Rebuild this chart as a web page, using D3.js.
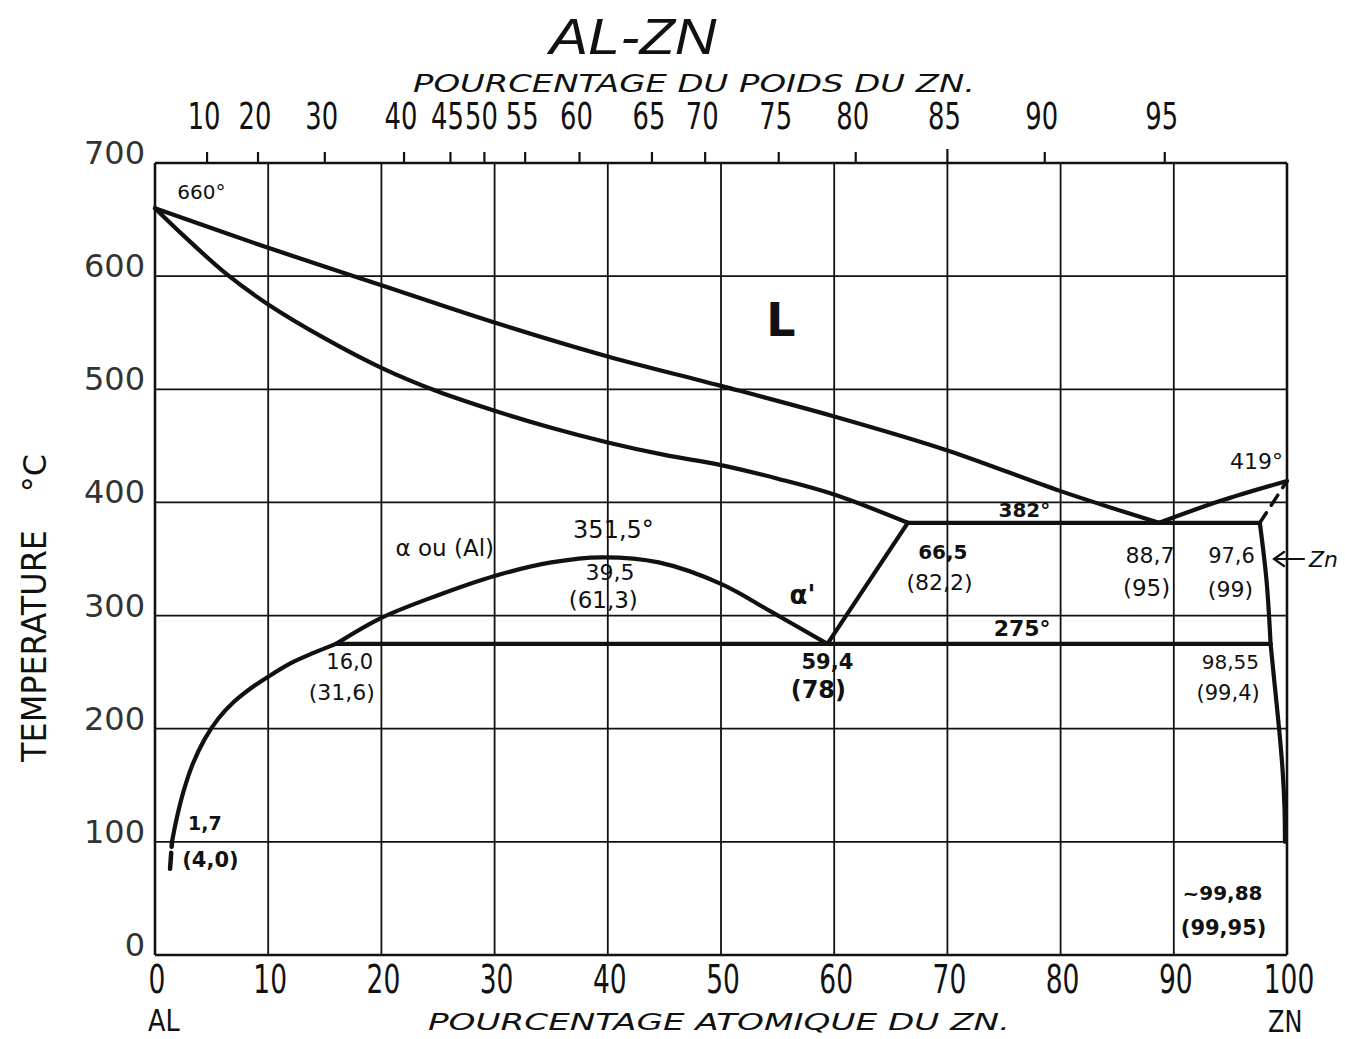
<!DOCTYPE html>
<html><head><meta charset="utf-8">
<script src="https://cdn.jsdelivr.net/npm/d3@7"></script>
<style>body{margin:0;background:#fff}svg{display:block}</style>
</head><body>
<svg id="chart" width="1345" height="1039"></svg>
<script>
// ---------- data ----------
const atomicTicks = [0,10,20,30,40,50,60,70,80,90,100];
const tempTicks = [0,100,200,300,400,500,600,700];
const weightTickLabels = ["10","20","30","40","45","50","55","60","65","70","75","80","85","90","95"];
const weightTickAtomic = [4.6,9.1,15.0,22.0,26.1,29.1,32.7,37.5,43.9,48.6,55.1,61.9,70.0,78.6,89.2];

const liquidusAl = [[0,660],[10,625],[20,592],[30,559],[40,529],[50,503],[60,476],[70,446],[80,410],[88.7,382]];
const liquidusZn = [[88.7,382],[94,401],[100,419]];
const solidusAl = [[0,660],[2.5,636],[6.3,602],[10,575],[15,545],[20,519],[25,498],[30,481],[35,466],[40,453],[45,442],[50,433],[55,421],[60,407],[66.5,382]];
const solvusAl = [[1.5,100],[1.9,120],[2.5,144],[3.3,168],[4.4,191],[5.6,209],[7,224],[8.5,236],[10,246],[12,258],[14,267],[16,275]];
const miscibilityGap = [[16,275],[20,298],[25,318],[30,335],[35,347],[39.5,351.5],[44.5,347],[50,328],[54.5,303],[59.4,275]];
const alphaPrimeEdge = [[59.4,275],[66.5,382]];
const monotectoid = [[66.5,382],[97.6,382]];
const eutectoid = [[16,275],[98.55,275]];
const solvusZnHigh = [[97.6,382],[98.2,330],[98.55,275]];
const solvusZnLow = [[98.55,275],[98.9,240],[99.3,200],[99.6,165],[99.78,130],[99.82,100]];
const solidusZnDashed = [[97.6,382],[100,419]];
const solvusAlDashed = [[1.5,100],[1.3,72]];

const annotations = [
  {text:"660°", at:4.1, t:674, size:20},
  {text:"L", at:55.3, t:561, size:46, bold:true},
  {text:"419°", at:97.3, t:436, size:22},
  {text:"382°", at:76.8, t:393, size:20, bold:true},
  {text:"66,5", at:69.6, t:356, size:20, bold:true},
  {text:"(82,2)", at:69.3, t:329, size:22},
  {text:"88,7", at:87.9, t:353, size:22},
  {text:"(95)", at:87.6, t:324, size:23},
  {text:"97,6", at:95.1, t:353, size:21},
  {text:"(99)", at:95.0, t:323, size:22},
  {text:"275°", at:76.6, t:289, size:22, bold:true},
  {text:"351,5°", at:40.5, t:376, size:24},
  {text:"39,5", at:40.2, t:338, size:22},
  {text:"(61,3)", at:39.6, t:314, size:23},
  {text:"α ou (Al)", at:25.6, t:360, size:23},
  {text:"α'", at:57.2, t:318, size:26, bold:true},
  {text:"16,0", at:17.2, t:259, size:21},
  {text:"(31,6)", at:16.5, t:232, size:22},
  {text:"59,4", at:59.4, t:259, size:21, bold:true},
  {text:"(78)", at:58.6, t:234, size:24, bold:true},
  {text:"98,55", at:95.0, t:259, size:20},
  {text:"(99,4)", at:94.8, t:232, size:21},
  {text:"1,7", at:4.4, t:117, size:19, bold:true},
  {text:"(4,0)", at:4.9, t:84, size:21, bold:true},
  {text:"~99,88", at:94.3, t:55, size:20, bold:true},
  {text:"(99,95)", at:94.4, t:24, size:21, bold:true}
];

// ---------- layout ----------
const svg = d3.select("#chart");
const x = d3.scaleLinear().domain([0,100]).range([155,1287]);
const y = d3.scaleLinear().domain([0,700]).range([955,163]);
const ink = "#111";
const font = "'DejaVu Sans',sans-serif";
const narrow = 0.68;

// grid
const gridG = svg.append("g");
gridG.append("g").selectAll("line").data(atomicTicks).join("line")
  .attr("x1",d=>x(d)).attr("x2",d=>x(d)).attr("y1",y(700)).attr("y2",y(0))
  .attr("stroke",ink).attr("stroke-width",d=>(d===0||d===100)?2.6:1.8);
gridG.append("g").selectAll("line").data(tempTicks).join("line")
  .attr("x1",x(0)).attr("x2",x(100)).attr("y1",d=>y(d)).attr("y2",d=>y(d))
  .attr("stroke",ink).attr("stroke-width",d=>(d===0||d===700)?2.6:1.8);

// bottom axis labels
svg.append("g").selectAll("text").data(atomicTicks).join("text")
  .attr("transform",d=>`translate(${x(d)+2},993) scale(${narrow},1)`).attr("text-anchor","middle")
  .attr("font-family",font).attr("font-size",39).attr("fill",ink).text(d=>d);

// left axis labels
svg.append("g").selectAll("text").data(tempTicks).join("text")
  .attr("x",145).attr("y",d=>y(d)+1).attr("text-anchor","end")
  .attr("font-family",font).attr("font-size",32).attr("fill","#333").text(d=>d);

// top weight-percent axis
const topAxis = svg.append("g");
topAxis.selectAll("line").data(weightTickAtomic).join("line")
  .attr("x1",d=>x(d)).attr("x2",d=>x(d)).attr("y1",y(700)).attr("y2",(d,i)=>weightTickLabels[i]==="85"?y(700)-14:y(700)-11)
  .attr("stroke",ink).attr("stroke-width",2.2);
topAxis.selectAll("text").data(weightTickAtomic).join("text")
  .attr("transform",d=>`translate(${x(d)-3},129) scale(${narrow},1)`).attr("text-anchor","middle")
  .attr("font-family",font).attr("font-size",38).attr("fill",ink)
  .text((d,i)=>weightTickLabels[i]);

// titles
svg.append("text").attr("x",633).attr("y",54).attr("text-anchor","middle")
  .attr("font-family","'Liberation Sans',sans-serif").attr("font-style","italic").attr("font-size",50)
  .attr("textLength",167).attr("lengthAdjust","spacingAndGlyphs").attr("fill",ink).text("AL-ZN");
svg.append("text").attr("x",413).attr("y",92)
  .attr("font-family",font).attr("font-style","italic").attr("font-size",24)
  .attr("textLength",562).attr("lengthAdjust","spacingAndGlyphs").attr("fill",ink)
  .text("POURCENTAGE  DU  POIDS  DU  ZN.");
svg.append("text").attr("x",428).attr("y",1030)
  .attr("font-family",font).attr("font-style","italic").attr("font-size",23)
  .attr("textLength",582).attr("lengthAdjust","spacingAndGlyphs").attr("fill",ink)
  .text("POURCENTAGE  ATOMIQUE  DU  ZN.");
svg.append("text").attr("transform",`translate(148,1031) scale(0.85,1)`)
  .attr("font-family",font).attr("font-size",30).attr("fill",ink).text("AL");
svg.append("text").attr("transform",`translate(1268,1032) scale(0.8,1)`)
  .attr("font-family",font).attr("font-size",30).attr("fill",ink).text("ZN");
svg.append("text").attr("transform","translate(46,646) rotate(-90)").attr("text-anchor","middle")
  .attr("font-family",font).attr("font-size",34).attr("fill",ink)
  .attr("textLength",232).attr("lengthAdjust","spacingAndGlyphs").text("TEMPERATURE");
svg.append("text").attr("transform","translate(46,473) rotate(-90)").attr("text-anchor","middle")
  .attr("font-family",font).attr("font-size",32).attr("fill",ink).text("°C");

// phase boundaries
const curve = d3.line().x(d=>x(d[0])).y(d=>y(d[1])).curve(d3.curveCatmullRom.alpha(0.5));
const straight = d3.line().x(d=>x(d[0])).y(d=>y(d[1]));
const lines = svg.append("g").attr("fill","none").attr("stroke",ink).attr("stroke-linecap","round").attr("stroke-linejoin","round");
[liquidusAl, liquidusZn, solidusAl, solvusAl, miscibilityGap, solvusZnHigh, solvusZnLow].forEach(d=>{
  lines.append("path").attr("d",curve(d)).attr("stroke-width",4.2);
});
[alphaPrimeEdge, monotectoid, eutectoid].forEach(d=>{
  lines.append("path").attr("d",straight(d)).attr("stroke-width",4.2);
});
lines.append("path").attr("d",straight(solidusZnDashed)).attr("stroke-width",3.5).attr("stroke-dasharray","12 9");
lines.append("path").attr("d",straight(solvusAlDashed)).attr("stroke-width",4.5).attr("stroke-dasharray","5 6 16 40");

// annotations
svg.append("g").selectAll("text").data(annotations).join("text")
  .attr("x",d=>x(d.at)).attr("y",d=>y(d.t)).attr("text-anchor","middle").attr("dominant-baseline","central")
  .attr("font-family",font)
  .attr("font-weight",d=>d.bold?"bold":"normal")
  .attr("font-size",d=>d.size).attr("fill",ink).text(d=>d.text);

// Zn arrow
const ay = y(350);
svg.append("path").attr("d",`M1304,${ay} L1274,${ay} M1284,${ay-7} L1274,${ay} L1284,${ay+7}`)
  .attr("fill","none").attr("stroke",ink).attr("stroke-width",2.2).attr("stroke-linecap","round");
svg.append("text").attr("x",1309).attr("y",ay).attr("dominant-baseline","central")
  .attr("font-family",font).attr("font-style","italic").attr("font-size",22).attr("fill",ink).text("Zn");
</script>
</body></html>
